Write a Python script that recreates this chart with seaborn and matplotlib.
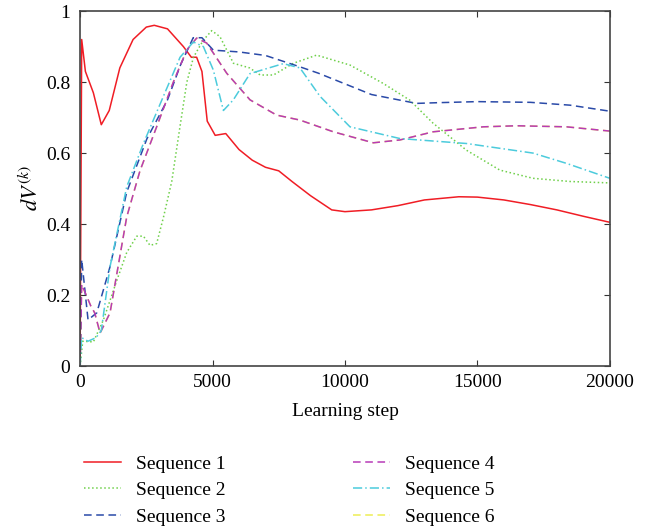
import numpy as np
import pandas as pd
import matplotlib
matplotlib.use("Agg")
import matplotlib.pyplot as plt
import seaborn as sns

# values (learning step, dV)
s1_x=[0,60,200,500,800,1100,1500,2000,2500,2800,3300,3900,4200,4400,4600,4800,5100,5500,6000,6500,7000,7500,8000,8700,9500,10000,11000,12000,13000,14300,15000,16000,17000,18000,19000,20000]
s1_y=[0,0.92,0.83,0.77,0.68,0.72,0.84,0.92,0.955,0.96,0.95,0.90,0.87,0.87,0.83,0.69,0.65,0.655,0.61,0.58,0.56,0.55,0.52,0.48,0.44,0.435,0.44,0.452,0.468,0.477,0.476,0.468,0.455,0.44,0.422,0.405]

s2_x=[0,100,500,880,1380,1760,2140,2390,2640,2890,3150,3460,3770,4030,4280,4650,4970,5280,5790,6400,6800,7300,8050,8930,10190,11450,12450,13330,14590,15850,17100,18500,20000]
s2_y=[0,0.07,0.068,0.13,0.24,0.32,0.366,0.366,0.34,0.345,0.42,0.52,0.674,0.80,0.87,0.918,0.945,0.928,0.853,0.84,0.82,0.82,0.853,0.876,0.848,0.796,0.749,0.684,0.608,0.552,0.529,0.52,0.516]

s3_x=[0,60,300,630,900,1130,1760,2520,3300,3800,4270,4600,5030,6000,7000,8300,9000,10000,11000,12700,13500,15000,17000,18500,20000]
s3_y=[0,0.30,0.13,0.15,0.22,0.28,0.49,0.64,0.75,0.85,0.925,0.925,0.89,0.885,0.875,0.843,0.825,0.795,0.765,0.740,0.742,0.745,0.743,0.735,0.718]

s4_x=[0,60,400,550,755,1130,1760,2260,2890,3520,4025,4400,4780,5535,6415,7420,8300,9560,11070,12075,13330,15220,16480,18365,20000]
s4_y=[0,0.23,0.17,0.15,0.093,0.15,0.42,0.55,0.674,0.80,0.89,0.924,0.91,0.825,0.75,0.707,0.693,0.66,0.629,0.637,0.66,0.674,0.677,0.674,0.662]

s5_x=[0,60,300,600,800,1130,1760,2390,3145,3774,4277,4654,5030,5410,5786,6415,7670,8300,9057,10190,12075,14590,17100,18365,20000]
s5_y=[0,0.08,0.07,0.08,0.10,0.28,0.505,0.627,0.76,0.87,0.913,0.90,0.834,0.72,0.75,0.824,0.852,0.84,0.76,0.674,0.641,0.627,0.60,0.571,0.529]

# sequence 6 is hidden under sequence 4 in the reference
s6_x=s4_x
s6_y=s4_y

labels=["Sequence 1","Sequence 2","Sequence 3","Sequence 4","Sequence 5","Sequence 6"]
colors=["#f01d25","#6fd04a","#2a4aa8","#b83ab8","#4ccbdc","#eeee55"]
styles=["-",":",(0,(5,3)),(0,(5,3)),(0,(6,2,1,2)),(0,(5,3))]

plt.rcParams["font.family"]=["Liberation Serif","DejaVu Serif"]
plt.rcParams["mathtext.fontset"]="stix"

fig=plt.figure(figsize=(6.46,5.29),dpi=100)
ax=fig.add_axes([0.124,0.308,0.820,0.671])

series=[(s1_x,s1_y),(s2_x,s2_y),(s3_x,s3_y),(s4_x,s4_y),(s5_x,s5_y),(s6_x,s6_y)]
order=[5,0,1,2,3,4]
for i in order:
    sx,sy=series[i]
    sns.lineplot(x=sx,y=sy,ax=ax,color=colors[i],linestyle=styles[i],linewidth=1.1,
                 label=labels[i],sort=False,zorder=2 if i!=5 else 1)

ax.set_xlim(0,20000)
ax.set_ylim(0,1)
ax.set_xticks([0,5000,10000,15000,20000])
ax.set_yticks([0,0.2,0.4,0.6,0.8,1])
ax.set_yticklabels(["0","0.2","0.4","0.6","0.8","1"])
ax.tick_params(direction="in",top=True,right=True,labelsize=14,length=4,color="#333333")
ax.tick_params(axis="x",pad=6)
ax.tick_params(axis="y",pad=7)
for sp in ax.spines.values():
    sp.set_color("#444444")
    sp.set_linewidth(1.2)
ax.set_xlabel("Learning step",fontsize=14,labelpad=8)
ax.set_ylabel(r"$dV^{(k)}$",fontsize=16,labelpad=2)

handles,labs=ax.get_legend_handles_labels()
hd=dict(zip(labs,handles))
ax.get_legend().remove()
fig.legend([hd[l] for l in labels],labels,loc="upper left",bbox_to_anchor=(0.118,0.154),
           ncol=2,frameon=False,fontsize=14,handlelength=1.9,handletextpad=0.75,
           columnspacing=6.6,labelspacing=0.45,borderaxespad=0)

fig.savefig("out.png",dpi=100)
